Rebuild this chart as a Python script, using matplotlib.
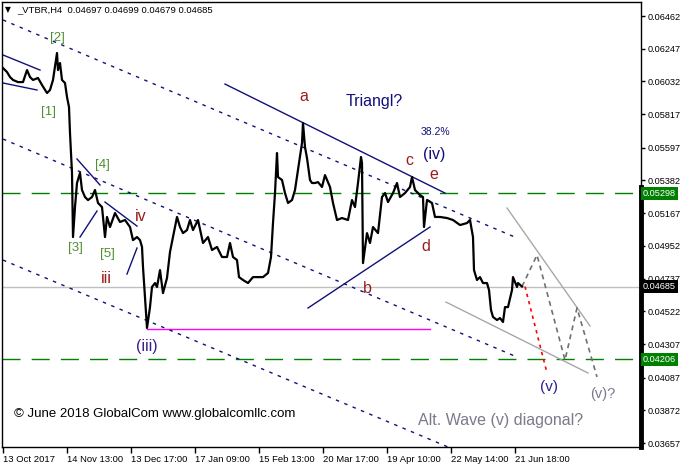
import matplotlib
matplotlib.use("Agg")
import matplotlib.pyplot as plt
import matplotlib.transforms as mtransforms

# Price path (H4 bar index, close)
bar_idx = [3, 7, 10, 13, 18, 23, 27, 30, 33, 38, 42, 47, 50, 53, 57, 58, 60, 62, 65, 67,
           69, 70, 71, 72, 73, 75, 77, 80, 82, 85, 88, 92, 95, 98, 102, 105, 107, 110, 115, 120,
           125, 130, 133, 137, 140, 142, 143, 145, 147, 150, 152, 155, 157, 160, 163, 167, 170, 173, 177, 180,
           183, 187, 190, 193, 198, 203, 208, 212, 217, 222, 227, 230, 233, 237, 239, 243, 248, 253, 258, 263,
           268, 271, 273, 275, 277, 278, 282, 285, 288, 292, 295, 298, 302, 303, 305, 307, 310, 312, 315, 318,
           322, 325, 330, 333, 337, 342, 348, 352, 355, 358, 361, 362, 363, 367, 370, 373, 378, 382, 385, 388,
           393, 397, 400, 405, 410, 412, 415, 420, 423, 424, 427, 432, 435, 440, 447, 453, 460, 467, 470, 473,
           474, 477, 480, 483, 487, 489, 491, 493, 497, 500, 503, 505, 508, 512, 513, 517, 518, 522]
price = [0.06120, 0.06094, 0.06061, 0.06042, 0.06028, 0.06028, 0.06107, 0.06061, 0.06042, 0.06055,
         0.06009, 0.05956, 0.05976, 0.06042, 0.06219, 0.06107, 0.06153, 0.06042, 0.06022, 0.05930,
         0.05864, 0.05693, 0.05562, 0.05431, 0.05010, 0.05207, 0.05365, 0.05431, 0.05319, 0.05273,
         0.05253, 0.05273, 0.05319, 0.05234, 0.05207, 0.05010, 0.05142, 0.05076, 0.05168, 0.05109,
         0.05122, 0.05076, 0.04990, 0.05010, 0.04990, 0.04945, 0.04813, 0.04616, 0.04413, 0.04550,
         0.04682, 0.04708, 0.04682, 0.04793, 0.04642, 0.04741, 0.04912, 0.05010, 0.05142, 0.05076,
         0.05036, 0.05056, 0.05122, 0.05056, 0.05122, 0.04971, 0.05010, 0.04925, 0.04945, 0.04879,
         0.04879, 0.04971, 0.04879, 0.04859, 0.04747, 0.04728, 0.04708, 0.04747, 0.04747, 0.04747,
         0.04774, 0.04879, 0.05102, 0.05299, 0.05562, 0.05404, 0.05385, 0.05299, 0.05234, 0.05253,
         0.05319, 0.05450, 0.05628, 0.05759, 0.05601, 0.05529, 0.05385, 0.05365, 0.05365, 0.05371,
         0.05339, 0.05417, 0.05339, 0.05234, 0.05122, 0.05135, 0.05122, 0.05253, 0.05207, 0.05365,
         0.05536, 0.05496, 0.04839, 0.05036, 0.04971, 0.05076, 0.05036, 0.05273, 0.05299, 0.05240,
         0.05299, 0.05365, 0.05273, 0.05299, 0.05339, 0.05404, 0.05319, 0.05286, 0.05273, 0.05076,
         0.05253, 0.05234, 0.05142, 0.05142, 0.05135, 0.05122, 0.05089, 0.05102, 0.05122, 0.05010,
         0.04793, 0.04728, 0.04747, 0.04708, 0.04708, 0.04662, 0.04531, 0.04485, 0.04465, 0.04478,
         0.04452, 0.04550, 0.04550, 0.04662, 0.04747, 0.04682, 0.04708, 0.04685]

# axis ticks
date_pos = [3, 67, 131, 195, 259, 323, 387, 451, 515]
date_labels = ["13 Oct 2017", "14 Nov 13:00", "13 Dec 17:00", "17 Jan 09:00", "15 Feb 13:00",
               "20 Mar 17:00", "19 Apr 10:00", "22 May 14:00", "21 Jun 18:00"]
price_ticks = [0.06462, 0.06247, 0.06032, 0.05817, 0.05597, 0.05382, 0.05167, 0.04952,
               0.04737, 0.04522, 0.04307, 0.04087, 0.03872, 0.03657]

# levels
level_hi = 0.05298
level_lo = 0.04206
last_price = 0.04685
iii_low = 0.04406

# drawn lines: (x0, x1), (p0, p1)
chan_top = ([3, 517], [0.06436, 0.05004])
chan_mid = ([3, 517], [0.05654, 0.04222])
chan_bot = ([3, 460], [0.04859, 0.03598])
navy_lines = [([3, 40], [0.06206, 0.06107]),
              ([3, 37], [0.06022, 0.05976]),
              ([77, 100], [0.05523, 0.05352]),
              ([80, 97], [0.05010, 0.05181]),
              ([105, 137], [0.05240, 0.05082]),
              ([127, 137], [0.04767, 0.04938]),
              ([225, 445], [0.06015, 0.05299]),
              ([308, 430], [0.04544, 0.05076])]
wedge_up = ([507, 590], [0.05201, 0.04426])
wedge_dn = ([446, 588], [0.04583, 0.04117])
alt_path_x = [522, 537, 565, 577, 597]
alt_path_p = [0.04685, 0.04892, 0.04202, 0.04544, 0.04091]
red_path = ([525, 547], [0.04685, 0.04117])

fig = plt.figure(figsize=(6.84, 4.69), dpi=100)
ax = fig.add_axes([2 / 684, 22 / 469, 639 / 684, 445 / 469])
ax.set_xlim(2, 641)
ax.set_ylim(0.03631, 0.06554)

navy = "#10107a"
ax.axhline(last_price, color="#c0c0c0", lw=1, zorder=1)
for lv in (level_hi, level_lo):
    ax.axhline(lv, color="#008000", lw=1, dashes=(13, 8), zorder=1)
ax.plot([147, 430], [iii_low, iii_low], color="#ff00ff", lw=1, zorder=1)

for xs, ps in (chan_top, chan_mid, chan_bot):
    ax.plot(xs, ps, color=navy, lw=1, dashes=(2.5, 4), zorder=2)
for xs, ps in navy_lines:
    ax.plot(xs, ps, color=navy, lw=1, zorder=2)
for xs, ps in (wedge_up, wedge_dn):
    ax.plot(xs, ps, color="#a8a8a8", lw=1, zorder=2)
ax.plot(alt_path_x, alt_path_p, color="#707070", lw=1.2, dashes=(3, 2.5), zorder=2)
ax.plot(red_path[0], red_path[1], color="#ff0000", lw=1.2, dashes=(2, 2.5), zorder=2)

ax.plot(bar_idx, price, color="black", lw=1.6, zorder=3)

# wave labels
grn = "#4f8f2f"
mar = "#9b1c1c"
lab = dict(ha="center", va="center", family="Liberation Sans")
for s, x, p in [("[2]", 57, 0.06318), ("[1]", 49, 0.05831), ("[3]", 75, 0.04938),
                ("[4]", 102, 0.05483), ("[5]", 107, 0.04899)]:
    ax.text(x, p, s, color=grn, fontsize=9.5, **lab)
for s, x, p in [("iii", 106, 0.04741), ("iv", 141, 0.05148), ("a", 304, 0.05932),
                ("b", 367, 0.04669), ("c", 409, 0.05516), ("d", 426, 0.04945), ("e", 434, 0.05424)]:
    ax.text(x, p, s, color=mar, fontsize=11.5, **lab)
ax.text(147, 0.04288, "(iii)", color="#3a1f8c", fontsize=11.5, **lab)
ax.text(374, 0.05901, "Triangl?", color=navy, fontsize=11.5, **lab)
ax.text(435, 0.05699, "38.2%", color=navy, fontsize=7.5, **lab)
ax.text(434, 0.05555, "(iv)", color=navy, fontsize=11.5, **lab)
ax.text(549, 0.04025, "(v)", color="#2a1f8c", fontsize=11, **lab)
ax.text(603, 0.03979, "(v)?", color="#7a7a8c", fontsize=10.5, **lab)
ax.text(501, 0.03808, "Alt. Wave (v) diagonal?", color="#7a7a8c", fontsize=11.5, **lab)
ax.text(14, 0.03848, "\u00a9 June 2018 GlobalCom www.globalcomllc.com", color="black",
        fontsize=9.5, ha="left", va="center", family="Liberation Sans")

# axes styling
ax.yaxis.tick_right()
ax.set_yticks(price_ticks)
ax.set_yticklabels([f"{v:.5f}" for v in price_ticks])
ax.set_xticks(date_pos)
ax.set_xticklabels(date_labels, ha="left")
ax.tick_params(axis="y", direction="out", length=3, width=1, pad=2, labelsize=6.6)
ax.tick_params(axis="x", direction="out", length=4, width=1, pad=2, labelsize=6.8)
for t in ax.get_xticklabels() + ax.get_yticklabels():
    t.set_family("Liberation Sans")
for sp in ax.spines.values():
    sp.set_linewidth(1)
    sp.set_color("black")

# thick right edge + price boxes
trans = mtransforms.blended_transform_factory(ax.transAxes, ax.transData)
ax.plot([1.0, 1.0], [0.05339, 0.03631], transform=trans, color="black", lw=3.5,
        clip_on=False, zorder=5)
for v, bg in ((level_hi, "#008000"), (last_price, "black"), (level_lo, "#008000")):
    ax.text(1.003, v, f"{v:.5f}", transform=trans, color="white", fontsize=6.6,
            family="Liberation Sans", ha="left", va="center", zorder=6,
            bbox=dict(facecolor=bg, edgecolor="none", pad=1.5))

fig.text(5 / 684, 1 - 10 / 469, "\u25bc", fontsize=5.5, va="center", ha="left", family="DejaVu Sans")
fig.text(17 / 684, 1 - 10 / 469, "_VTBR,H4  0.04697 0.04699 0.04679 0.04685", fontsize=6.8,
         va="center", ha="left", family="Liberation Sans")

fig.savefig("out.png", dpi=100)
